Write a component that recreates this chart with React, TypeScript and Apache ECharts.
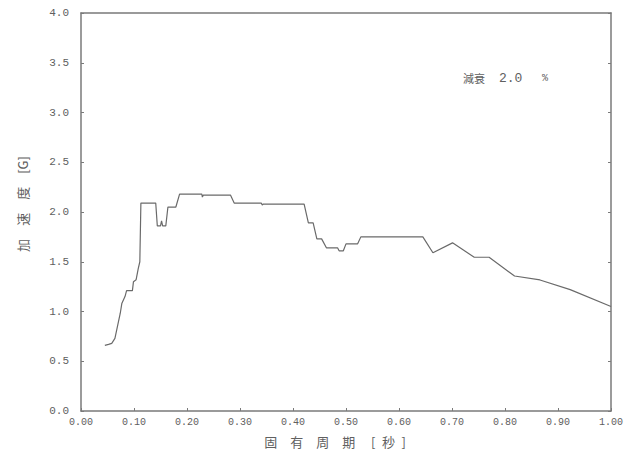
import React, { useEffect, useRef } from "react";
import * as echarts from "echarts";

const periods = [0.045, 0.052, 0.058, 0.064, 0.068, 0.074, 0.077, 0.083, 0.086, 0.097, 0.099, 0.104, 0.108, 0.111, 0.113, 0.141, 0.144, 0.150, 0.152, 0.154, 0.160, 0.164, 0.179, 0.186, 0.228, 0.229, 0.231, 0.282, 0.289, 0.340, 0.342, 0.344, 0.421, 0.429, 0.438, 0.445, 0.454, 0.463, 0.484, 0.487, 0.495, 0.500, 0.522, 0.528, 0.645, 0.664, 0.701, 0.742, 0.770, 0.818, 0.866, 0.923, 1.0];
const accel = [0.66, 0.67, 0.68, 0.73, 0.83, 0.98, 1.08, 1.15, 1.21, 1.21, 1.30, 1.32, 1.43, 1.50, 2.09, 2.09, 1.86, 1.86, 1.91, 1.86, 1.86, 2.05, 2.05, 2.18, 2.18, 2.15, 2.17, 2.17, 2.09, 2.09, 2.07, 2.08, 2.08, 1.89, 1.89, 1.73, 1.73, 1.64, 1.64, 1.61, 1.61, 1.68, 1.68, 1.75, 1.75, 1.59, 1.69, 1.545, 1.545, 1.357, 1.317, 1.22, 1.05];

const xTitle = "固\u3000有\u3000周\u3000期\u3000 [\u2002秒\u2002]";
const yTitle = "加\u3000速\u3000度\u3000[G]";
const noteLabel = "減衰";
const noteValue = "2.0";
const noteUnit = "%";

const MONO = "'Liberation Mono', 'DejaVu Sans Mono', monospace";
const CJK = "'Noto Sans CJK JP', sans-serif";
const AXIS = "#7a7a7a";
const TEXT = "#606060";

export default function App() {
  const ref = useRef<HTMLDivElement>(null);
  useEffect(() => {
    document.body.style.margin = "0";
    const chart = echarts.init(ref.current!, undefined, { renderer: "svg" });
    const data = periods.map((p, i) => [p, accel[i]]);
    chart.setOption({
      animation: false,
      backgroundColor: "#fff",
      grid: { left: 81, right: 19, top: 13, bottom: 50 },
      xAxis: [
        {
          type: "value",
          min: 0,
          max: 1,
          interval: 0.1,
          position: "bottom",
          axisLine: { show: true, onZero: false, lineStyle: { color: AXIS, width: 1.5 } },
          axisTick: { show: true, inside: true, length: 3, lineStyle: { color: AXIS } },
          splitLine: { show: false },
          axisLabel: {
            color: TEXT,
            fontFamily: MONO,
            fontSize: 10,
            margin: 6,
            formatter: (v: number) => v.toFixed(2),
          },
        },
        {
          type: "value",
          min: 0,
          max: 1,
          interval: 0.1,
          position: "top",
          axisLine: { show: true, onZero: false, lineStyle: { color: AXIS, width: 1.5 } },
          axisTick: { show: false },
          axisLabel: { show: false },
          splitLine: { show: false },
        },
      ],
      yAxis: [
        {
          type: "value",
          min: 0,
          max: 4,
          interval: 0.5,
          position: "left",
          axisLine: { show: true, onZero: false, lineStyle: { color: AXIS, width: 1.5 } },
          axisTick: { show: true, inside: true, length: 3, lineStyle: { color: AXIS } },
          splitLine: { show: false },
          axisLabel: {
            color: TEXT,
            fontFamily: MONO,
            fontSize: 11,
            margin: 12,
            formatter: (v: number) => v.toFixed(1),
          },
        },
        {
          type: "value",
          min: 0,
          max: 4,
          interval: 0.5,
          position: "right",
          axisLine: { show: true, onZero: false, lineStyle: { color: AXIS, width: 1.5 } },
          axisTick: { show: true, inside: true, length: 3, lineStyle: { color: AXIS } },
          axisLabel: { show: false },
          splitLine: { show: false },
        },
      ],
      series: [
        {
          type: "line",
          xAxisIndex: 0,
          yAxisIndex: 0,
          data,
          showSymbol: false,
          symbol: "none",
          lineStyle: { color: "#6a6a6a", width: 1.2 },
        },
      ],
      graphic: [
        {
          type: "text",
          x: 335,
          y: 441,
          style: {
            text: xTitle,
            fill: TEXT,
            font: `13px ${CJK}`,
            textAlign: "center",
            textVerticalAlign: "middle",
          },
        },
        {
          type: "text",
          x: 22,
          y: 204,
          rotation: Math.PI / 2,
          style: {
            text: yTitle,
            fill: TEXT,
            font: `13px ${CJK}`,
            textAlign: "center",
            textVerticalAlign: "middle",
          },
        },
        {
          type: "text",
          x: 463,
          y: 78,
          style: {
            text: noteLabel,
            fill: TEXT,
            font: `11px ${CJK}`,
            textAlign: "left",
            textVerticalAlign: "middle",
          },
        },
        {
          type: "text",
          x: 499,
          y: 78,
          style: {
            text: noteValue,
            fill: TEXT,
            font: `13px ${MONO}`,
            textAlign: "left",
            textVerticalAlign: "middle",
          },
        },
        {
          type: "text",
          x: 542,
          y: 78,
          style: {
            text: noteUnit,
            fill: TEXT,
            font: `10px ${MONO}`,
            textAlign: "left",
            textVerticalAlign: "middle",
          },
        },
      ],
    });
    return () => chart.dispose();
  }, []);
  return <div ref={ref} style={{ width: 630, height: 461 }} />;
}
